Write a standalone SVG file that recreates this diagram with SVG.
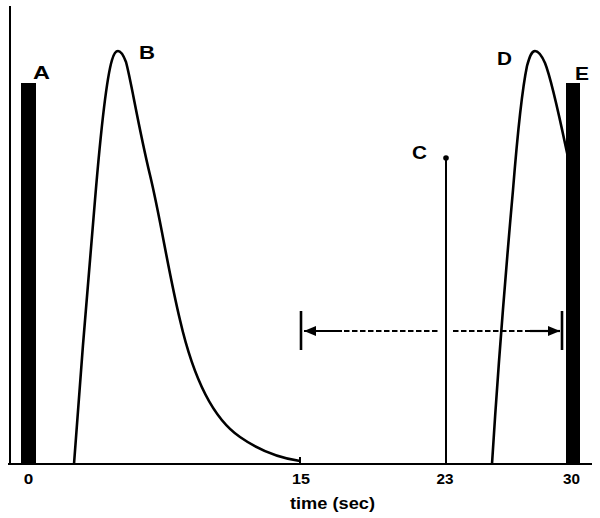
<svg xmlns="http://www.w3.org/2000/svg" width="600" height="518" viewBox="0 0 600 518">
<style>
.ln{fill:none;stroke:#000;stroke-linecap:butt}
.crv{fill:none;stroke:#000;stroke-width:2.6;stroke-linejoin:round}
.bar{fill:#000}
.lbl{font-family:"Liberation Sans",Arial,sans-serif;font-weight:bold;font-size:19px;fill:#000}
.tick{font-family:"Liberation Sans",Arial,sans-serif;font-weight:bold;font-size:14px;fill:#000;text-anchor:middle}
.ttl{font-family:"Liberation Sans",Arial,sans-serif;font-weight:bold;font-size:17px;fill:#000}
</style>
<defs>
<marker id="ah" viewBox="0 0 12 10" refX="12" refY="5" markerWidth="12" markerHeight="10" markerUnits="userSpaceOnUse" orient="auto">
<path d="M0,0 L12,5 L0,10 Z" fill="#000"/>
</marker>
</defs>
<rect width="600" height="518" fill="#fff"/>
<g id="axes">
<line class="ln" x1="10" y1="6" x2="10" y2="465" stroke-width="2"/>
<line class="ln" x1="8" y1="464" x2="592" y2="464" stroke-width="2.2"/>
<text class="tick" x="28.5" y="484" textLength="9.5" lengthAdjust="spacingAndGlyphs">0</text>
<text class="tick" x="301" y="484" textLength="18" lengthAdjust="spacingAndGlyphs">15</text>
<text class="tick" x="445" y="484" textLength="17" lengthAdjust="spacingAndGlyphs">23</text>
<text class="tick" x="571.5" y="484" textLength="17" lengthAdjust="spacingAndGlyphs">30</text>
<text class="ttl" x="290" y="509" textLength="85" lengthAdjust="spacingAndGlyphs">time (sec)</text>
</g>
<g id="nodeB">
<path class="crv" d="M74,464 C80,380 88,280 95,200 C100,140 106,80 112,60 C114,53 116,51 118,51 C121,51 123,54 126,62 C131,80 138,125 150,175 C160.8,220 168,270 180,320 C195,385 215,420 240,437 C260,451 280,458 300,461"/>
<line class="ln" x1="300" y1="457" x2="300" y2="464" stroke-width="2"/>
<text class="lbl" x="139" y="59" textLength="16" lengthAdjust="spacingAndGlyphs">B</text>
</g>
<g id="nodeD">
<path class="crv" d="M492,464 C496,400 505,280 513,190 C517,140 522,90 527,66 C530,55 532,51 535,51 C538,51 541,54 545,63 C551,78 558,110 566,148 L574,185"/>
<text class="lbl" x="497" y="65" textLength="15" lengthAdjust="spacingAndGlyphs">D</text>
</g>
<g id="nodeA">
<rect class="bar" x="21" y="83" width="15" height="381"/>
<text class="lbl" x="33" y="79" textLength="17" lengthAdjust="spacingAndGlyphs">A</text>
</g>
<g id="nodeE">
<rect class="bar" x="566" y="83" width="14" height="381"/>
<text class="lbl" x="575" y="80" textLength="14" lengthAdjust="spacingAndGlyphs">E</text>
</g>
<g id="nodeC">
<line class="ln" x1="446" y1="158" x2="446" y2="464" stroke-width="2"/>
<circle cx="446" cy="158" r="2.8" fill="#000"/>
<text class="lbl" x="412" y="159" textLength="15" lengthAdjust="spacingAndGlyphs">C</text>
</g>
<g id="connectors">
<line class="ln" x1="301" y1="311" x2="301" y2="350" stroke-width="2.6"/>
<line class="ln" x1="562" y1="311" x2="562" y2="350" stroke-width="2.6"/>
<line class="ln" x1="342" y1="331" x2="304" y2="331" stroke-width="2.2" marker-end="url(#ah)"/>
<line class="ln" x1="344" y1="331" x2="439" y2="331" stroke-width="2.2" stroke-dasharray="5.5 2.5"/>
<line class="ln" x1="453" y1="331" x2="530" y2="331" stroke-width="2.2" stroke-dasharray="5.5 2.5"/>
<line class="ln" x1="530" y1="331" x2="560" y2="331" stroke-width="2.2" marker-end="url(#ah)"/>
</g>
</svg>
